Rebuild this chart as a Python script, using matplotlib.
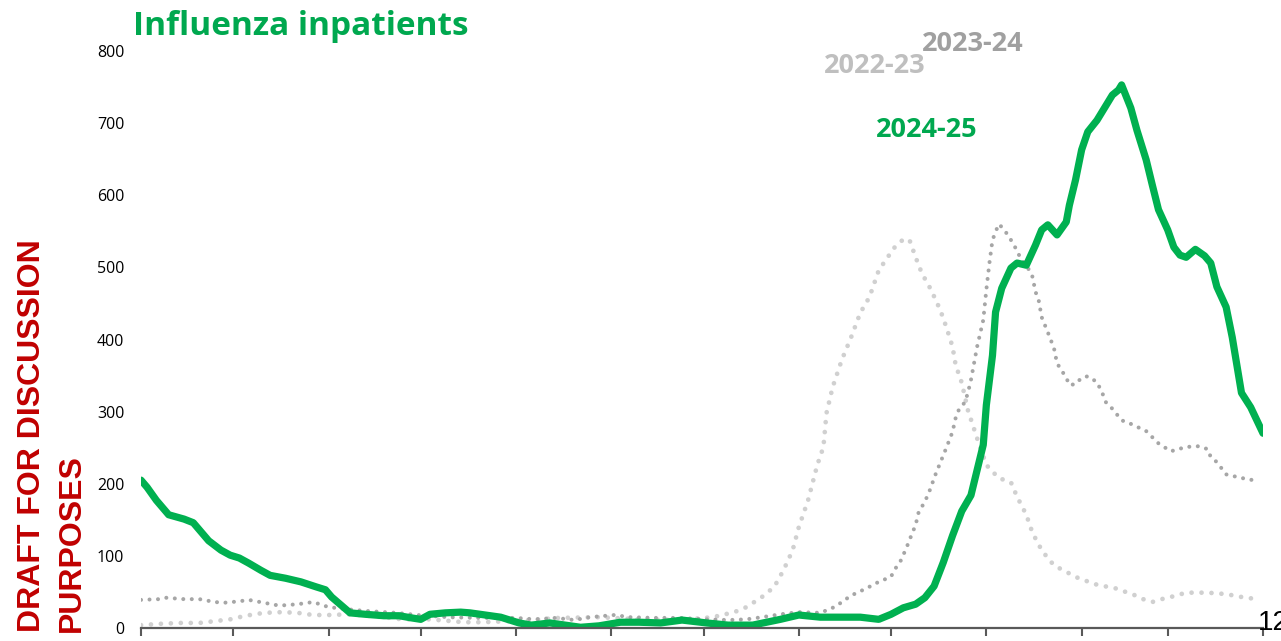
import matplotlib
matplotlib.use("Agg")
import matplotlib.pyplot as plt

# Day of season (0 = 1 April) and daily influenza inpatient counts
days_2223 = [0, 7, 13, 19, 25, 29, 34, 40, 46, 51, 56, 61, 68, 79, 85, 94, 105, 111,
             123, 136, 149, 162, 175, 186, 193, 197, 202, 206, 209, 212, 214, 217, 220,
             222, 223, 225, 228, 231, 234, 237, 240, 245, 248, 250, 252, 254, 257, 260,
             262, 264, 265, 267, 269, 272, 275, 279, 283, 285, 288, 290, 293, 295, 297,
             300, 305, 311, 317, 323, 326, 329, 331, 335, 340, 347, 353, 358, 363]
vals_2223 = [4, 6, 7, 7, 10, 12, 17, 21, 22, 21, 18, 18, 19, 15, 12, 12, 8, 8,
             10, 14, 15, 12, 11, 15, 22, 29, 43, 57, 80, 108, 140, 177, 226,
             251, 298, 334, 372, 403, 437, 459, 496, 527, 539, 538, 514, 492, 469, 441,
             417, 390, 365, 340, 302, 263, 226, 208, 202, 182, 157, 132, 108, 97, 87,
             80, 69, 60, 55, 46, 40, 36, 39, 43, 49, 49, 47, 43, 40]

days_2324 = [0, 6, 8, 14, 19, 24, 27, 32, 35, 40, 45, 51, 56, 61, 67, 72, 83, 90, 100,
             110, 122, 128, 135, 141, 146, 154, 159, 167, 175, 184, 191, 197, 202, 208,
             214, 221, 225, 227, 230, 232, 236, 240, 244, 245, 247, 249, 250, 252, 253,
             255, 257, 258, 260, 262, 264, 265, 266, 268, 269, 270, 271, 272, 274, 275,
             276, 277, 278, 279, 280, 282, 284, 286, 289, 290, 291, 292, 293, 295, 297,
             298, 301, 302, 304, 306, 308, 311, 313, 314, 316, 319, 322, 327, 331, 335,
             340, 344, 347, 348, 350, 353, 358, 363]
vals_2324 = [39, 40, 42, 40, 40, 36, 35, 37, 39, 35, 31, 33, 36, 29, 26, 24, 21, 18, 15,
             14, 14, 12, 14, 11, 15, 18, 15, 14, 14, 12, 11, 12, 15, 19,
             22, 21, 28, 33, 42, 47, 55, 64, 71, 80, 92, 111, 122, 143, 161,
             175, 195, 208, 229, 250, 272, 291, 302, 313, 326, 344, 367, 390, 427, 469,
             506, 538, 549, 560, 556, 545, 531, 514, 496, 487, 466, 455, 431, 410, 388,
             367, 347, 337, 338, 347, 349, 341, 323, 312, 304, 288, 283, 273, 256, 245,
             251, 252, 248, 237, 230, 213, 208, 204]

days_2425 = [0, 2, 5, 9, 14, 17, 19, 22, 26, 29, 32, 35, 39, 42, 47, 52, 57, 60, 62,
             65, 68, 73, 79, 84, 88, 91, 94, 99, 104, 107, 112, 117, 120, 123, 127,
             133, 138, 143, 149, 156, 162, 169, 176, 184, 191, 199, 208, 214, 221, 227,
             234, 240, 244, 248, 252, 255, 258, 261, 264, 267, 270, 272, 274, 275, 277,
             278, 280, 283, 285, 288, 291, 293, 295, 298, 301, 302, 304, 306, 308, 311,
             314, 316, 318, 319, 322, 324, 327, 329, 331, 334, 336, 338, 340, 343, 346,
             348, 350, 353, 355, 358, 361, 365]
vals_2425 = [205, 195, 177, 157, 151, 146, 136, 121, 108, 101, 97, 90, 80, 73, 69, 64, 57, 53, 43,
             32, 21, 19, 17, 17, 14, 12, 19, 21, 22, 21, 18, 15, 11, 7, 4,
             7, 4, 1, 3, 8, 8, 7, 11, 7, 4, 4, 12, 18, 15, 15,
             15, 12, 19, 28, 33, 42, 58, 91, 128, 162, 184, 219, 254, 309, 378,
             438, 471, 499, 506, 503, 531, 552, 559, 545, 563, 586, 621, 663, 688, 704,
             725, 739, 746, 753, 721, 690, 649, 614, 580, 552, 528, 517, 514, 525, 516,
             506, 473, 445, 403, 326, 306, 270]

# Month boundaries, April through March
month_starts = [0, 30, 61, 91, 122, 153, 183, 214, 244, 275, 306, 334, 365]
y_ticks = [0, 100, 200, 300, 400, 500, 600, 700, 800]

season_labels = ["2022-23", "2023-24", "2024-25"]

GREEN = "#00B050"
GREEN_TXT = "#00A84F"
GREY_LIGHT = "#D0D0D0"
GREY_DARK = "#A6A6A6"

fig = plt.figure(figsize=(12.81, 6.41), dpi=100)
ax = fig.add_axes([141 / 1281, 13 / 641, (1263 - 141) / 1281, (628 - 51) / 641])

ax.plot(days_2223, vals_2223, color=GREY_LIGHT, lw=3.4, linestyle=(0, (0.01, 2.1)),
        dash_capstyle="round", solid_capstyle="round")
ax.plot(days_2324, vals_2324, color=GREY_DARK, lw=2.9, linestyle=(0, (0.01, 2.1)),
        dash_capstyle="round", solid_capstyle="round")
ax.plot(days_2425, vals_2425, color=GREEN, lw=5.2, solid_capstyle="round",
        solid_joinstyle="round")

ax.set_xlim(0, 365)
ax.set_ylim(0, 800)
ax.set_xticks(month_starts)
ax.set_xticklabels([])
ax.set_yticks(y_ticks)
ax.set_yticklabels([str(v) for v in y_ticks], fontfamily="Open Sans", fontsize=11.5)

for side in ("top", "right", "left"):
    ax.spines[side].set_visible(False)
ax.spines["bottom"].set_color("#595959")
ax.spines["bottom"].set_linewidth(1.6)
ax.tick_params(axis="x", direction="out", length=6, width=1.5, color="#595959")
ax.tick_params(axis="y", length=0, pad=12)

# Season labels
lab_font = dict(fontfamily="Open Sans", fontweight="bold", fontsize=19.5,
                ha="left", va="center", clip_on=False)
ax.text(222, 779, season_labels[0], color="#BFBFBF", **lab_font)
ax.text(254, 810, season_labels[1], color="#A0A0A0", **lab_font)
ax.text(239, 690, season_labels[2], color=GREEN_TXT, **lab_font)

# Title
fig.text(133 / 1281, 1 - 35 / 641, "Influenza inpatients", color=GREEN_TXT,
         fontfamily="Open Sans", fontweight="bold", fontsize=24, ha="left",
         va="baseline")

# Draft watermark along the left edge
draft_font = dict(fontfamily="Liberation Sans", fontweight="bold", fontsize=23,
                  color="#C00000", rotation=90, ha="center", va="bottom")
fig.text(32 / 1281, 9 / 641, "DRAFT FOR DISCUSSION", **draft_font)
fig.text(72 / 1281, 9 / 641, "PURPOSES", **draft_font)

# Trailing axis label at the right edge
fig.text(1258 / 1281, 1 - 623 / 641, "12", fontfamily="Liberation Sans",
         fontsize=20, color="black", ha="left", va="center")

fig.savefig("out.png", dpi=100)
